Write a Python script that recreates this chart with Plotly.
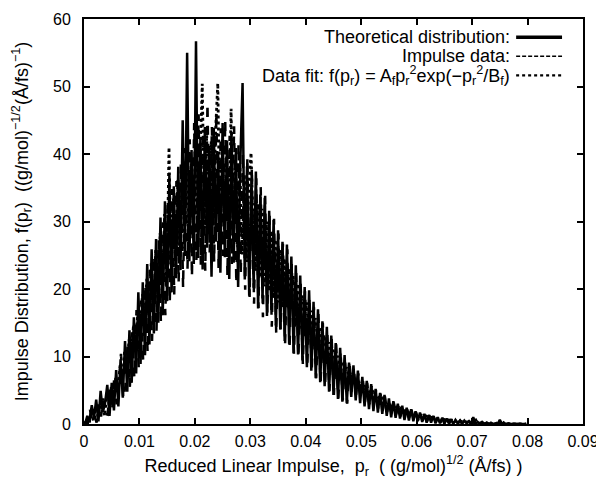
import plotly.graph_objects as go

# Bin width of the impulse histogram (x grid), bins start at 0
BIN_WIDTH = 0.0004

theoretical = [
    0.0, 1.2, 0.3, 2.8, 0.9, 3.6, 0.4, 4.9, 1.8, 3.1,
    5.8, 1.2, 6.1, 2.0, 8.0, 2.6, 9.6, 3.9, 12.3, 4.8,
    13.9, 6.1, 15.8, 7.5, 19.5, 8.9, 21.0, 10.2, 23.7, 11.8,
    25.9, 13.4, 27.4, 15.0, 30.6, 16.1, 33.0, 18.2, 36.8, 19.5,
    35.2, 21.6, 38.1, 22.8, 45.0, 24.9, 55.0, 24.1, 40.6, 23.7,
    56.7, 24.6, 42.5, 22.9, 44.0, 26.1, 41.2, 21.8, 43.9, 27.0,
    40.1, 22.4, 44.6, 24.7, 42.0, 21.5, 43.3, 23.9, 40.9, 20.3,
    39.0, 50.5, 21.4, 38.2, 19.0, 36.1, 20.2, 37.4, 17.1, 34.0,
    18.6, 33.5, 16.0, 31.6, 16.9, 30.2, 14.6, 28.7, 14.0, 27.0,
    12.3, 26.6, 11.9, 24.8, 10.5, 23.5, 10.3, 22.0, 9.4, 20.3,
    8.4, 19.8, 7.9, 18.1, 6.8, 17.0, 6.2, 15.2, 5.6, 14.4,
    4.8, 13.1, 4.3, 12.0, 3.7, 11.3, 3.3, 10.2, 3.1, 9.1,
    4.0, 8.7, 3.5, 7.9, 3.1, 7.0, 2.6, 6.4, 2.2, 5.9,
    1.9, 5.2, 1.7, 4.6, 1.5, 4.3, 1.2, 3.8, 1.0, 3.4,
    0.9, 3.0, 0.8, 2.7, 0.6, 2.4, 0.5, 2.2, 0.4, 1.9,
    0.4, 1.7, 0.3, 1.5, 0.2, 1.3, 0.2, 1.2, 0.1, 1.0,
    0.1, 0.9, 0.0, 0.8, 0.1, 0.7, 0.0, 0.6, 0.1, 0.5,
    0.0, 0.5, 0.1, 0.4, 0.0, 1.0, 0.0, 0.3, 0.0, 0.3,
    0.0, 0.2, 0.0, 0.2, 0.0, 0.1, 0.0, 0.6, 0.0, 0.1,
    0.0, 0.1, 0.0, 0.0, 0.1, 0.0, 0.0, 0.0, 0.0, 0.0,
]

impulse_data = [
    0.5, 0.0, 2.1, 0.6, 1.4, 0.2, 2.9, 1.1, 3.8, 1.5,
    1.4, 5.3, 2.0, 7.1, 2.9, 6.0, 10.4, 3.8, 5.6, 11.8,
    5.5, 13.6, 6.9, 16.9, 8.4, 18.3, 9.3, 20.6, 10.6, 22.8,
    12.3, 24.9, 13.8, 27.2, 15.0, 29.9, 16.1, 32.4, 18.0, 34.8,
    19.2, 36.0, 21.0, 38.7, 20.2, 40.9, 23.0, 42.2, 21.8, 44.6,
    24.3, 45.9, 23.6, 43.1, 22.7, 47.5, 25.4, 44.0, 24.0, 46.2,
    23.1, 43.8, 24.9, 45.0, 22.0, 42.7, 23.7, 44.1, 20.8, 41.5,
    22.1, 40.2, 19.9, 39.6, 18.8, 37.9, 17.8, 36.4, 17.2, 35.1,
    15.8, 33.8, 16.5, 31.0, 14.4, 30.4, 13.3, 28.2, 13.9, 26.7,
    11.8, 25.9, 11.1, 23.7, 10.4, 22.4, 9.8, 21.0, 8.9, 19.7,
    8.4, 18.8, 7.8, 17.3, 6.8, 16.5, 6.0, 15.0, 5.6, 13.7,
    4.9, 12.6, 4.3, 11.9, 3.8, 10.8, 3.5, 9.8, 3.0, 9.4,
    4.8, 8.2, 4.3, 7.5, 3.9, 6.8, 3.3, 6.1, 2.9, 5.6,
    2.6, 5.0, 2.3, 4.5, 2.0, 4.1, 1.7, 3.7, 1.5, 3.2,
    1.3, 2.9, 1.1, 2.6, 1.0, 2.3, 0.8, 2.1, 0.7, 1.8,
    0.6, 1.6, 0.5, 1.4, 0.4, 1.3, 0.3, 1.1, 0.3, 1.0,
    0.2, 0.9, 0.2, 0.8, 0.1, 0.7, 0.1, 0.6, 0.1, 0.5,
    0.0, 0.4, 0.1, 0.4, 0.0, 0.3, 0.0, 0.3, 0.0, 0.2,
    0.0, 0.2, 0.0, 0.1, 0.0, 0.2, 0.0, 0.1, 0.0, 0.4,
    0.0, 0.1, 0.0, 0.0, 0.0, 0.1, 0.0, 0.0, 0.0, 0.0,
]

data_fit = [
    0.0, 0.8, 0.1, 1.9, 0.4, 2.4, 1.0, 2.0, 3.3, 1.2,
    4.6, 2.8, 5.5, 4.0, 6.9, 5.2, 8.7, 6.6, 10.9, 8.4,
    12.5, 10.2, 14.7, 11.9, 16.8, 13.3, 19.2, 15.8, 21.5, 17.3,
    23.9, 16.0, 25.8, 17.5, 28.3, 18.9, 31.1, 20.3, 41.0, 22.4,
    33.4, 23.5, 36.2, 24.8, 37.8, 26.0, 39.5, 26.4, 38.4, 28.0,
    41.6, 28.4, 40.3, 50.4, 29.0, 42.8, 28.1, 41.9, 29.5, 43.4,
    50.5, 27.7, 42.1, 28.8, 40.7, 26.7, 46.7, 27.2, 39.3, 26.2,
    38.1, 25.1, 37.0, 24.0, 35.5, 40.2, 29.0, 22.7, 32.6, 21.7,
    31.9, 20.4, 30.0, 19.7, 28.6, 18.6, 27.3, 18.0, 25.8, 17.3,
    24.5, 19.8, 23.0, 18.7, 21.9, 17.5, 20.8, 16.3, 19.1, 15.4,
    18.0, 14.7, 16.8, 13.6, 15.7, 12.5, 14.3, 11.7, 13.2, 10.6,
    12.1, 9.9, 11.0, 9.2, 10.1, 8.5, 9.2, 7.8, 8.4, 7.1,
    7.7, 6.5, 7.0, 5.9, 6.3, 5.3, 5.7, 4.8, 5.1, 4.3,
    4.7, 3.9, 4.2, 3.5, 3.8, 3.1, 3.4, 2.8, 3.0, 2.5,
    2.7, 2.2, 2.4, 2.0, 2.1, 1.8, 1.9, 1.6, 1.7, 1.4,
    1.5, 1.3, 1.3, 1.1, 1.2, 1.0, 1.0, 0.9, 0.9, 0.8,
    0.8, 0.7, 0.7, 0.6, 0.6, 0.5, 0.5, 0.4, 0.5, 0.4,
    0.4, 0.3, 0.3, 0.3, 0.2, 0.2, 0.8, 0.2, 0.1, 0.2,
    0.1, 0.1, 0.0, 0.1, 0.0, 0.3, 0.0, 0.1, 0.0, 0.0,
    0.0, 0.0, 0.0, 0.1, 0.0, 0.0, 0.0, 0.0, 0.0, 0.0,
]

x_ticks = [0, 0.01, 0.02, 0.03, 0.04, 0.05, 0.06, 0.07, 0.08, 0.09]
x_tick_labels = ["0", "0.01", "0.02", "0.03", "0.04", "0.05", "0.06", "0.07", "0.08", "0.09"]
y_ticks = [0, 10, 20, 30, 40, 50, 60]

legend_labels = [
    "Theoretical distribution:",
    "Impulse data:",
    "Data fit: f(p<sub>r</sub>) = A<sub>f</sub>p<sub>r</sub><sup>2</sup>exp(\u2212p<sub>r</sub><sup>2</sup>/B<sub>f</sub>)",
]


def grid(values, offset):
    return [round(offset + BIN_WIDTH * i, 5) for i in range(len(values))]


FONT = "Liberation Sans, Arial, Helvetica, sans-serif"

fig = go.Figure()
fig.add_trace(go.Scatter(x=grid(impulse_data, 0.00027), y=impulse_data, mode="lines",
                         line=dict(color="black", width=2.5, dash="dash"), showlegend=False))
fig.add_trace(go.Scatter(x=grid(data_fit, 0.00013), y=data_fit, mode="lines",
                         line=dict(color="black", width=2.8, dash="dot"), showlegend=False))
fig.add_trace(go.Scatter(x=grid(theoretical, 0.0002), y=theoretical, mode="lines",
                         line=dict(color="black", width=2.5), showlegend=False))

# legend drawn gnuplot-style: right-aligned text with the sample to the right
styles = [dict(width=3.5), dict(width=1.5, dash="4px,2px"), dict(width=2.2, dash="dot")]
rows_y = [0.955, 0.908, 0.861]
for lab, st, yy in zip(legend_labels, styles, rows_y):
    fig.add_annotation(x=0.857, y=yy, xref="paper", yref="paper", text=lab,
                       showarrow=False, xanchor="right", yanchor="middle",
                       font=dict(family=FONT, size=18, color="black"))
    fig.add_shape(type="line", xref="paper", yref="paper", x0=0.866, x1=0.958,
                  y0=yy, y1=yy, line=dict(color="black", **st))

axis_common = dict(showline=True, linecolor="black", linewidth=2, mirror="allticks",
                   ticks="inside", ticklen=6, tickwidth=2, tickcolor="black",
                   showgrid=False, zeroline=False, automargin=False,
                   tickfont=dict(family=FONT, size=16, color="black"))

fig.update_xaxes(range=[0, 0.09], tickvals=x_ticks, ticktext=x_tick_labels,
                 ticklabelstandoff=2,
                 title=dict(text="Reduced Linear Impulse,\u00a0 p<sub>r</sub>\u00a0 ( (g/mol)<sup>1/2</sup> (\u00c5/fs) )",
                            font=dict(family=FONT, size=18, color="black"), standoff=10),
                 **axis_common)
fig.update_yaxes(range=[0, 60], tickvals=y_ticks, ticklabelstandoff=8,
                 title=dict(text="Impulse Distribution, f(p<sub>r</sub>)\u00a0 ((g/mol)<sup>\u22121/2</sup>(\u00c5/fs)<sup>\u22121</sup>)",
                            font=dict(family=FONT, size=18, color="black"), standoff=20),
                 **axis_common)

# the page body adds an 8px margin, so the figure is sized 8px smaller
fig.update_layout(width=596, height=471, margin=dict(l=76, r=21, t=11, b=55),
                  plot_bgcolor="white", paper_bgcolor="white",
                  font=dict(family=FONT, size=16, color="black"))

fig.write_html("out.html")
